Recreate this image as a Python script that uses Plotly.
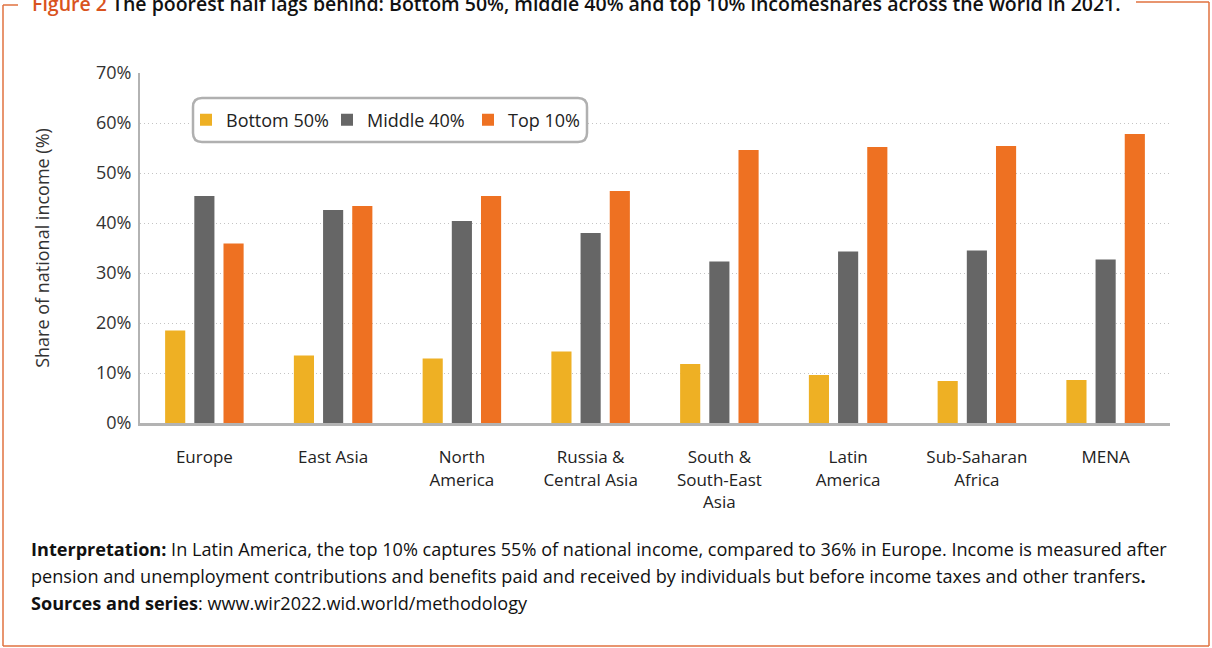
import plotly.graph_objects as go

categories = ["Europe", "East Asia", "North<br>America", "Russia &<br>Central Asia",
              "South &<br>South-East<br>Asia", "Latin<br>America", "Sub-Saharan<br>Africa", "MENA"]
bottom50 = [18.5, 13.5, 12.9, 14.3, 11.8, 9.6, 8.4, 8.6]
middle40 = [45.4, 42.6, 40.4, 38.0, 32.3, 34.3, 34.5, 32.7]
top10 = [35.9, 43.4, 45.4, 46.4, 54.6, 55.2, 55.4, 57.8]
series_names = ["Bottom 50%", "Middle 40%", "Top 10%"]
series_colors = ["#EEB024", "#666666", "#EE7122"]
yticks = [0, 10, 20, 30, 40, 50, 60, 70]
ytick_labels = [f"{v}%" for v in yticks]

W, H = 1212, 648
ML, MR, MT, MB = 140, 42, 73, 225
PW, PH = W - ML - MR, H - MT - MB

def px(x):
    return (x - ML) / PW

def py(y):
    return (H - MB - y) / PH

FONT = "Open Sans"
fig = go.Figure()
for name, vals, col in zip(series_names, [bottom50, middle40, top10], series_colors):
    fig.add_trace(go.Bar(x=categories, y=vals, name=name, marker_color=col,
                         marker_line_width=0))

fig.update_layout(
    width=W, height=H,
    margin=dict(l=ML, r=MR, t=MT, b=MB),
    paper_bgcolor="white", plot_bgcolor="white",
    barmode="group", bargap=0.32, bargroupgap=0.31,
    font=dict(family=FONT, size=16, color="#333333"),
    showlegend=True,
    legend=dict(orientation="h", x=px(186), y=py(120), xanchor="left", yanchor="middle",
                bgcolor="rgba(0,0,0,0)", borderwidth=0,
                font=dict(size=18, color="#222222"), entrywidth=96,
                traceorder="normal"),
    xaxis=dict(showline=True, linecolor="#b3b3b3", linewidth=3, ticks="",
               tickfont=dict(size=17, color="#222222"), ticklabelstandoff=17,
               showgrid=False, zeroline=False),
    yaxis=dict(range=[0, 70], tickvals=yticks, ticktext=ytick_labels,
               showline=True, linecolor="#b3b3b3", linewidth=2,
               showgrid=True, gridcolor="#c4c4c4", gridwidth=1, griddash="1px,3px",
               zeroline=False, ticks="", ticklabelstandoff=3,
               tickfont=dict(size=18, color="#333333"),
               title=dict(text="Share of national income (%)", standoff=42,
                          font=dict(size=18, color="#333333"))),
)

# rounded legend box
x0, x1 = px(193), px(587)
y0, y1 = py(142), py(98)
rx, ry = 9 / PW, 9 / PH
path = (f"M{x0+rx},{y0} L{x1-rx},{y0} Q{x1},{y0} {x1},{y0+ry} L{x1},{y1-ry} "
        f"Q{x1},{y1} {x1-rx},{y1} L{x0+rx},{y1} Q{x0},{y1} {x0},{y1-ry} "
        f"L{x0},{y0+ry} Q{x0},{y0} {x0+rx},{y0} Z")
fig.add_shape(type="path", path=path, xref="paper", yref="paper",
              line=dict(color="#b0b0b0", width=2.5), fillcolor="white", layer="above")

# outer frame
frame_col = "#E0723F"
fig.add_shape(type="line", xref="paper", yref="paper", x0=px(3), x1=px(3), y0=py(646), y1=py(5),
              line=dict(color=frame_col, width=1.5))
fig.add_shape(type="line", xref="paper", yref="paper", x0=px(3), x1=px(18), y0=py(5), y1=py(5),
              line=dict(color=frame_col, width=1.5))
fig.add_shape(type="line", xref="paper", yref="paper", x0=px(1136), x1=px(1209), y0=py(2), y1=py(2),
              line=dict(color=frame_col, width=1.5))
fig.add_shape(type="line", xref="paper", yref="paper", x0=px(1209), x1=px(1209), y0=py(2), y1=py(646),
              line=dict(color=frame_col, width=1.5))
fig.add_shape(type="line", xref="paper", yref="paper", x0=px(3), x1=px(1209), y0=py(646), y1=py(646),
              line=dict(color=frame_col, width=1.5))

# title (cut off at top like the reference)
fig.add_annotation(xref="paper", yref="paper", x=px(30), y=py(3), xanchor="left", yanchor="middle",
                   showarrow=False,
                   text=("<span style='color:#D9531E'>Figure 2</span> The poorest half lags behind: "
                         "Bottom 50%, middle 40% and top 10% incomeshares across the world in 2021."),
                   font=dict(family=FONT, size=19.5, color="#111111", weight=600))

notes = [
    ("<b>Interpretation:</b> In Latin America, the top 10% captures 55% of national income, compared to 36% in Europe. Income is measured after", 549),
    ("pension and unemployment contributions and benefits paid and received by individuals but before income taxes and other tranfers<b>.</b>", 576),
    ("<b>Sources and series</b>: www.wir2022.wid.world/methodology", 603),
]
for txt, ypos in notes:
    fig.add_annotation(xref="paper", yref="paper", x=px(29), y=py(ypos), xanchor="left",
                       yanchor="middle", showarrow=False, text=txt,
                       font=dict(family=FONT, size=18.1, color="#111111"))

fig.write_html("out.html")
